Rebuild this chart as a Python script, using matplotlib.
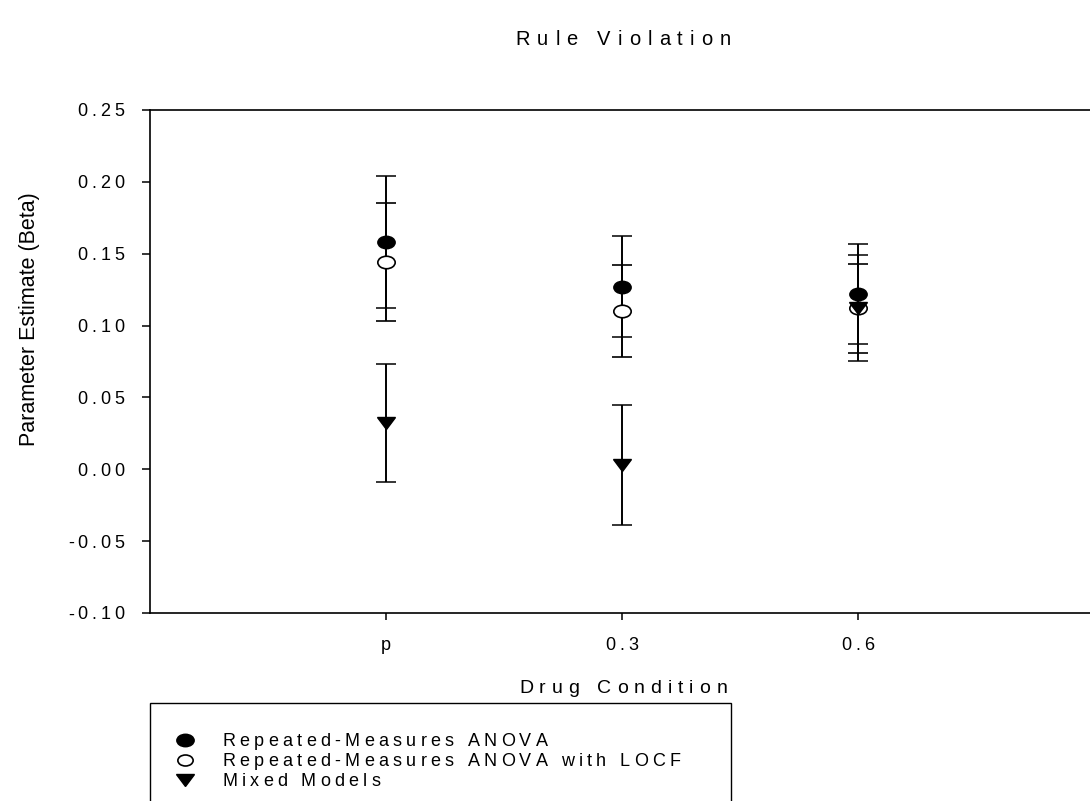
import matplotlib
matplotlib.use("Agg")
import matplotlib.pyplot as plt
from matplotlib.markers import MarkerStyle
from matplotlib.transforms import Affine2D
from matplotlib.patches import Rectangle
from matplotlib.lines import Line2D
from matplotlib.font_manager import FontProperties, findfont, get_font

plt.rcParams['font.family'] = ['Liberation Sans', 'DejaVu Sans']
plt.rcParams['axes.unicode_minus'] = False

W, H, DPI = 1090, 801, 100

# drug conditions
conditions = ['p', '0.3', '0.6']
cond_pos = [1, 2, 3]

# parameter estimates and error bar half-widths
rm_anova = [0.158, 0.127, 0.122]
rm_anova_err = [0.046, 0.035, 0.035]
rm_locf = [0.144, 0.110, 0.112]
rm_locf_err = [0.041, 0.032, 0.031]
mixed = [0.032, 0.003, 0.112]
mixed_err = [0.041, 0.042, 0.037]

yticks = [-0.10, -0.05, 0.0, 0.05, 0.10, 0.15, 0.20, 0.25]
ytick_labels = ['-0.10', '-0.05', '0.00', '0.05', '0.10', '0.15', '0.20', '0.25']
labels = ['Repeated-Measures ANOVA', 'Repeated-Measures ANOVA with LOCF', 'Mixed Models']


def advances(s, size):
    # per-character advance widths in pixels
    fp = FontProperties(family='Liberation Sans', size=size)
    font = get_font(findfont(fp))
    font.set_size(size, DPI)
    return [font.load_char(ord(ch)).linearHoriAdvance / 65536 for ch in s]


def spaced_text(fig, x, y, s, size, gap, ha='left'):
    # draws letter-spaced text, x/y in pixels from the top-left, y is the baseline
    adv = advances(s, size)
    total = sum(adv) + gap * (len(s) - 1)
    if ha == 'center':
        x0 = x - total / 2
    elif ha == 'right':
        x0 = x - total
    else:
        x0 = x
    for ch, a in zip(s, adv):
        if ch != ' ':
            fig.text(x0 / W, 1 - y / H, ch, fontsize=size, ha='left', va='baseline')
        x0 += a + gap


fig = plt.figure(figsize=(W / DPI, H / DPI), dpi=DPI)
ax = fig.add_axes([150 / W, 1 - 613 / H, 944 / W, 503 / H])

squash = Affine2D().scale(1.0, 0.72)
circ = MarkerStyle('o', transform=squash)
tri = MarkerStyle('v', transform=squash)

common = dict(color='black', elinewidth=1.4, capsize=7, capthick=1.1, linestyle='none')
ax.errorbar(cond_pos, rm_anova, yerr=rm_anova_err, marker=circ, markersize=12.5,
            markerfacecolor='black', markeredgecolor='black', zorder=3, **common)
ax.errorbar(cond_pos, rm_locf, yerr=rm_locf_err, marker=circ, markersize=12.5,
            markerfacecolor='white', markeredgecolor='black', markeredgewidth=1.2, zorder=3, **common)
ax.errorbar(cond_pos, mixed, yerr=mixed_err, marker=tri, markersize=12.5,
            markerfacecolor='black', markeredgecolor='black', zorder=4, **common)

ax.set_xlim(0, 4)
ax.set_ylim(-0.10, 0.25)
ax.set_xticks(cond_pos)
ax.set_yticks(yticks)
ax.set_xticklabels([])
ax.set_yticklabels([])
ax.tick_params(axis='y', direction='out', length=6, width=1.1)
ax.tick_params(axis='x', direction='out', length=5, width=1.1)
ax.spines['right'].set_visible(False)
for s in ['top', 'bottom', 'left']:
    ax.spines[s].set_linewidth(1.2)

# tick labels, letter-spaced like the original
for v, lab in zip(yticks, ytick_labels):
    px, py = ax.transData.transform((0, v))
    spaced_text(fig, 124, (H - py) + 6.4, lab, 13, 3.8, ha='right')
for v, lab in zip(cond_pos, conditions):
    px, py = ax.transData.transform((v, -0.10))
    spaced_text(fig, px, 650, lab, 13, 3.8, ha='center')

fig.text(30 / W, 1 - 319 / H, 'Parameter Estimate (Beta)', fontsize=15.5,
         rotation=90, ha='center', va='center')
spaced_text(fig, 623, 693, 'Drug Condition', 14, 6.0, ha='center')
spaced_text(fig, 623, 45, 'Rule Violation', 14.5, 7.0, ha='center')

# legend box running off the bottom of the figure
fig.patches.append(Rectangle((150 / W, -0.05), (731 - 150) / W, 0.05 + 1 - 703 / H,
                             transform=fig.transFigure, fill=False, edgecolor='black', linewidth=1.0))
keys = [
    dict(marker=circ, markersize=12.5, markerfacecolor='black', markeredgecolor='black'),
    dict(marker=circ, markersize=11, markerfacecolor='white', markeredgecolor='black', markeredgewidth=1.2),
    dict(marker=tri, markersize=12.5, markerfacecolor='black', markeredgecolor='black'),
]
for i, (lab, key) in enumerate(zip(labels, keys)):
    yc = 740 + 20 * i
    fig.add_artist(Line2D([185 / W], [1 - yc / H], linestyle='none', transform=fig.transFigure, **key))
    spaced_text(fig, 222, yc + 6, lab, 13, 4.3)

fig.savefig('out.png', dpi=DPI)
